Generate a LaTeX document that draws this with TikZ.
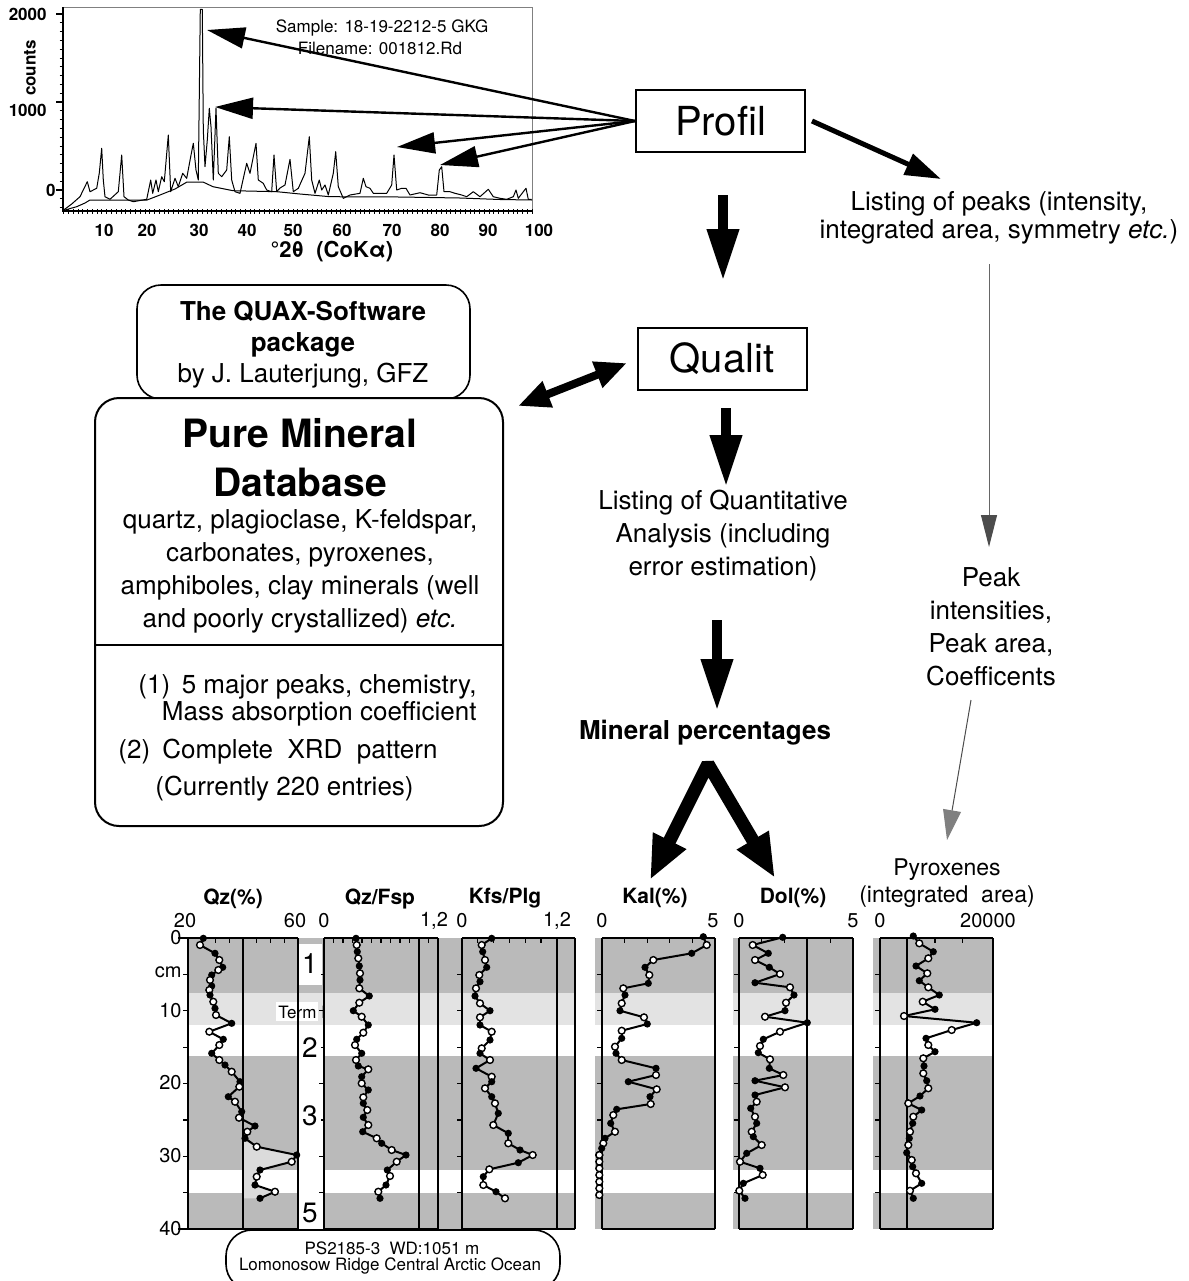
\documentclass[tikz,border=0pt]{standalone}
\usepackage{fontspec}
\setmainfont{TeX Gyre Heros}
\usetikzlibrary{arrows.meta}
\newcommand\markpts[1]{\foreach \x/\y [count=\i] in #1 {\ifodd\i \fill (\x,\y) circle[radius=1.8pt]; \else \filldraw[fill=white,line width=0.7pt] (\x,\y) circle[radius=1.7pt];\fi}}
\newcommand\linepts[1]{\foreach \x/\y [count=\i, remember=\x as \lx (initially 0), remember=\y as \ly (initially 0)] in #1 {\ifnum\i>1 \draw[curve] (\lx,\ly) -- (\x,\y);\fi}}
\def\dQz{203.3/938.3, 200/945, 215/953.3, 219.3/960, 222.7/967.3, 218.3/970, 211.7/975, 210/980, 211.7/986, 209.3/990, 210/995, 213.3/1001.7, 215/1008.3, 216/1015, 231.7/1023.3, 209.3/1031.7, 223.3/1039.3, 219.3/1045, 211.7/1053.3, 219.3/1060, 225/1065, 231.7/1071.7, 240/1081.7, 239.3/1086.7, 228.3/1096.7, 235/1101.7, 241.7/1111.7, 239/1117.7, 255/1126, 247.3/1131.7, 245/1138.3, 256.7/1146.7, 296.7/1155, 291.7/1161.7, 260/1170, 256.7/1176.7, 255/1185, 275/1191.7, 260/1198.3}
\def\dQF{356/938.3, 356.7/945, 357.3/951.7, 358.3/958.3, 359.3/966, 360/973.3, 360/980, 359.3/988.3, 369.3/996, 359.3/1002.7, 353.3/1010.7, 361.7/1016.7, 368.3/1025, 363.3/1032.7, 356.7/1039.3, 355/1045, 361.7/1053.3, 356/1060, 358.3/1066, 368.3/1069.3, 361.7/1076.7, 361.7/1083.3, 368.3/1090, 363.3/1097.3, 363.3/1103.3, 367.3/1110, 363.3/1117.3, 368.3/1125, 362.7/1131.7, 376.7/1138.3, 381.7/1143.3, 391.7/1150, 406/1155, 396.7/1161.7, 387.3/1170, 390/1176, 386/1185, 378.3/1191.7, 380/1198.3}
\def\dKP{491.7/938.3, 481.7/945, 482.7/951.7, 485/960, 486.7/967.3, 479.3/975, 480/981.7, 476/988.3, 475/996, 480/1003.3, 490/1010.7, 480/1017.3, 480/1025, 491.7/1031.7, 490/1040, 481.7/1048.3, 480/1053.3, 490/1060, 476/1068.3, 491.7/1076.7, 491.7/1081.7, 485/1088.3, 491.7/1096.7, 495/1103.3, 498.3/1113.3, 493.3/1125, 508.3/1133.3, 508.3/1143.3, 520/1150, 532.7/1155, 518.3/1162.7, 489.3/1169.3, 483.3/1176.7, 483.3/1185, 496/1191.7, 505/1198.3}
\def\dKal{703.3/936.7, 706.7/945, 691.7/953.3, 653.3/960, 645/967.3, 649.3/975, 648.3/983.3, 623.3/988.3, 625/995, 621.7/1003.3, 620/1010.7, 644/1017.3, 647.3/1024, 621.7/1030.7, 621.7/1038.3, 615/1046.7, 616/1053.3, 621.7/1060, 656/1068.3, 656/1075, 628.3/1081.7, 656.7/1089.3, 650/1096.7, 650.7/1104, 616.7/1109.3, 613.3/1115, 610.7/1123.3, 615/1131.7, 605/1138.3, 603.3/1143.3, 601.7/1148.3, 599.3/1155}
\def\dKalO{599.3/1155, 599.3/1161.7, 599.3/1168.3, 599.3/1175, 599.3/1181.7, 599.3/1188.3, 599.3/1195}
\def\dDol{782.7/937.3, 752.7/945, 768.3/953.3, 755/960, 769.3/967.3, 780/974, 755/982.7, 790/987.3, 794/995, 786/1002.7, 785/1010.7, 765/1016.7, 807.3/1022.7, 780/1031.7, 763.3/1039.3, 760/1046, 758.3/1052.7, 770/1059.3, 769.3/1068.3, 783.3/1075, 755/1080.7, 785/1087.3, 755/1095, 756.7/1101.7, 750.7/1108.3, 755/1116.7, 756.7/1123.3, 751.7/1131.7, 753.3/1136.7, 761.7/1145, 746.7/1153.3, 740/1161.7, 760/1168.3, 762.7/1175, 743.3/1183.3, 739.3/1190.7, 745/1198.3}
\def\dPyr{913.3/936, 919.3/943.3, 933.3/951.7, 928.3/958.3, 916/966, 927.3/973.3, 919.3/980.7, 928.3/987.3, 939.3/995, 922.7/1001.7, 935/1009.3, 904/1016, 976.7/1022.7, 951.7/1030, 926/1038.3, 928.3/1045, 935/1051.7, 923.3/1058.3, 924/1066, 923.3/1073.3, 926.7/1080.7, 928.3/1088.3, 920/1096, 908.3/1103.3, 921.7/1110, 913.3/1116.7, 912.7/1123.3, 910/1131.7, 909.3/1138.3, 908.3/1145, 906.7/1152.7, 911.7/1160, 912.7/1166.7, 916/1173.3, 921.7/1183.3, 910/1190.7, 913.3/1198.3}
\begin{document}
\begin{tikzpicture}[x=0.5pt,y=-0.5pt,
  every node/.style={inner sep=0pt},
  tx/.style={font=\fontsize{13}{16.5}\selectfont, align=center},
  procbox/.style={draw, line width=1pt, minimum width=84.5pt, minimum height=31pt, font=\fontsize{20}{24}\selectfont},
  axlbl/.style={font=\bfseries\fontsize{8.5}{10}\selectfont},
  small/.style={font=\fontsize{8.5}{10}\selectfont},
  ptitle/.style={font=\bfseries\fontsize{10.5}{12}\selectfont},
  pnum/.style={font=\fontsize{10}{12}\selectfont},
  bignum/.style={font=\fontsize{14}{16}\selectfont, fill=white, inner sep=1.5pt},
  dense/.style={fill=black!27},
  sparse/.style={fill=black!11},
  curve/.style={line width=1pt, line cap=round},
  panel/.style={line width=1pt},
  inner/.style={line width=0.8pt},
  thinarr/.style={line width=1.2pt, -{Triangle[length=19pt,width=10.5pt]}},
  medarr/.style={line width=2.5pt, -{Triangle[length=18pt,width=11pt]}},
  fatarr/.style={line width=5pt, -{Triangle[length=26pt,width=15pt]}},
  greyarr/.style={line width=0.5pt, draw=black!60, -{Triangle[length=16pt,width=8pt,fill=black!70,color=black!70]}},
  grey2arr/.style={line width=0.5pt, draw=black!70, -{Triangle[length=15pt,width=9pt,fill=black!50,color=black!50]}}
]
\useasboundingbox (0,0) rectangle (1189,1281);

% ================= XRD pattern =================
\draw[black!50, line width=0.4pt] (62.7,7) -- (532,7) -- (532,211);
\draw[line width=0.9pt] (62.7,7) -- (62.7,211) -- (532,211);
\foreach \k in {-2,...,20} \draw[line width=0.4pt] (59.5,{190-\k*8.8}) -- (62.7,{190-\k*8.8});
\foreach \k in {0,10,20} \draw[line width=0.6pt] (56,{190-\k*8.8}) -- (62.7,{190-\k*8.8});
\foreach \v in {2,...,100} \draw[line width=0.4pt] ({62.7+(\v-1.8)*4.78},209) -- ({62.7+(\v-1.8)*4.78},214);
\node[axlbl, anchor=east] (y2000) at (47,14) {2000};
\node[axlbl, anchor=east] (y1000) at (47,110) {1000};
\node[axlbl, anchor=east] (y0) at (56,190) {0};
\node[axlbl, rotate=90] (counts) at (30,68) {counts};
\foreach \v/\xx in {10/104,20/147,30/199,40/247,50/293,60/342,70/392,80/440,90/488,100/539}
  \node[axlbl] (xl\v) at (\xx,230) {\v};
\node[font=\bfseries\fontsize{11}{13}\selectfont] (xaxis) at (332,252) {°2θ\ \ (CoKα)};
\node[small] (sample) at (382,28) {Sample: 18-19-2212-5 GKG};
\node[small] (fname) at (380,48) {Filename: 001812.Rd};
% background
\draw[line width=0.5pt] (62.7,210.7) -- (72,208) -- (76.7,206.7) -- (85,203) -- (90,200) -- (133,200) -- (147,200) -- (160,195) -- (175,189) -- (187,182) -- (203,182) -- (213,186.7) -- (233,190.7) -- (277,191.7) -- (300,194) -- (330,196.7) -- (400,197) -- (460,198) -- (500,199.5) -- (532,200);
% spectrum
\draw[line width=0.5pt, line join=round] (62.7,210.7) -- (71.7,204) -- (80,196.7) -- (87.3,181.7) -- (90,191.7) -- (96.7,188.3) -- (99.3,173) -- (101.7,148.3) -- (103.3,180) -- (105,196.7) -- (110,199.3) -- (118.3,191.7) -- (121.7,155) -- (124,196.7) -- (128.3,200) -- (133.3,201.7) -- (146.7,199.3) -- (150.7,180) -- (152.7,193.3) -- (156,180) -- (158.3,191.7) -- (161.7,176.7) -- (164.3,181.7) -- (168.3,135) -- (170.7,191.7) -- (175,178.3) -- (178.3,186.7) -- (182.7,173.3) -- (186.7,178.3) -- (190.7,156.7) -- (193.3,143.3) -- (196,170) -- (198.3,180) -- (200.3,9.3) -- (202.3,9.3) -- (203.3,130) -- (205,166.7) -- (207.3,140) -- (209.3,108.3) -- (211,126.7) -- (213.3,180) -- (216,108.3) -- (218.3,173.3) -- (221.7,176.7) -- (226.7,170) -- (229.3,136.7) -- (231.7,180) -- (235,191.7) -- (240,193.3) -- (246.7,163.3) -- (250,173.3) -- (256,143.3) -- (258.3,180) -- (263.3,183.3) -- (266.7,190) -- (271.7,191.7) -- (274,155) -- (276.7,191.7) -- (280,188) -- (285,185) -- (290,159.3) -- (293.3,191.7) -- (298.3,188.3) -- (305,173.3) -- (309.3,136.7) -- (311.7,180) -- (315,193.3) -- (319.3,180) -- (321.7,190) -- (325,185) -- (328.3,195) -- (333.3,173.3) -- (335.7,151.7) -- (338.3,186.7) -- (343.3,198.3) -- (350,195) -- (360,193.3) -- (363.3,178.3) -- (366,186.7) -- (370,188.3) -- (373.3,193.3) -- (386.7,193.3) -- (391.7,185) -- (394,155) -- (396.7,190) -- (401.7,188.3) -- (406,188.3) -- (410,195) -- (420,192.7) -- (428.3,195) -- (436.7,195) -- (439.3,170) -- (441.7,166.7) -- (444,191.7) -- (450,191.7) -- (455,193.3) -- (461.7,195) -- (466.7,196.7) -- (473.3,191.7) -- (480,196.7) -- (488.3,189.3) -- (493.3,196.7) -- (500,198.3) -- (506.7,199.3) -- (513.3,196.7) -- (516,190) -- (518.3,198.3) -- (523.3,191.7) -- (526,188.3) -- (528.3,199.3) -- (531.7,199.3);

% ================= flow part =================
\node[procbox] (profil) at (720.5,121) {Profil};
\node[procbox] (qualit) at (722,359) {Qualit};
\coordinate (t1) at (207,30);
\coordinate (t2) at (215,107);
\coordinate (t3) at (397,147);
\coordinate (t4) at (440,165);
\foreach \t in {t1,t2,t3,t4} \draw[thinarr] (profil.west) -- (\t);

\node[tx, font=\fontsize{13}{14}\selectfont] (listpk) at (999,218) {Listing of peaks (intensity,\\integrated area, symmetry \textit{etc.})};
\coordinate (lpt) at (941,179);
\draw[medarr] ([xshift=3pt]profil.east) -- (lpt);

\coordinate (pa1) at (723,195);
\coordinate (pa2) at (723,281);
\draw[fatarr] (pa1) -- (pa2);

\coordinate (g1) at (989,264);
\coordinate (g2) at (989,547);
\draw[greyarr] (g1) -- (g2);
\node[tx] (peak) at (991,627) {Peak\\intensities,\\Peak area,\\Coefficents};
\coordinate (g3) at (971,700);
\coordinate (g4) at (947,840);
\draw[grey2arr] (g3) -- (g4);

\node[draw, rounded corners=12pt, line width=0.8pt, minimum width=166.5pt, minimum height=57pt] (quax) at (303.5,342) {};
\node[draw, fill=white, rounded corners=12pt, line width=1pt, minimum width=204pt, minimum height=214pt] (db) at (299,612) {};
\node[font=\bfseries\fontsize{13}{15.5}\selectfont, align=center] (quaxt) at (303,329) {The QUAX-Software\\package};
\node[tx] (quaxa) at (303,376) {by J. Lauterjung, GFZ};
\node[font=\bfseries\fontsize{19.5}{24.5}\selectfont, align=center] (dbt) at (300,458) {Pure Mineral\\Database};
\node[tx] (dbl) at (300,571) {quartz, plagioclase, K-feldspar,\\carbonates, pyroxenes,\\amphiboles,\ clay minerals (well\\and poorly crystallized) \textit{etc.}};
\draw[line width=1pt] (95,645) -- (503,645);
\node[tx, anchor=west] (n1) at (138,687) {(1)};
\node[tx, anchor=east] (n1a) at (477,687) {5 major peaks, chemistry,};
\node[tx, anchor=east] (n1b) at (477,714) {Mass absorption\ coefficient};
\node[tx, anchor=west] (n2) at (118,752) {(2)};
\node[tx, anchor=west] (n2a) at (162,752) {Complete\ \ XRD\ \ pattern};
\node[tx, anchor=west] (n3) at (155,789) {(Currently 220 entries)};

\coordinate (d1) at (518,406);
\coordinate (d2) at (627,363);
\draw[line width=4pt, {Triangle[length=16pt,width=13pt]}-{Triangle[length=16pt,width=13pt]}] (d1) -- (d2);

\coordinate (qa1) at (726,408);
\coordinate (qa2) at (726,487);
\draw[fatarr] (qa1) -- (qa2);
\node[tx] (lqa) at (723,536) {Listing of Quantitative\\Analysis (including\\error estimation)};
\coordinate (qb1) at (717,620);
\coordinate (qb2) at (717,711);
\draw[fatarr] (qb1) -- (qb2);
\node[font=\bfseries\fontsize{13}{15}\selectfont] (minp) at (705,733) {Mineral percentages};

\coordinate (vl) at (650,880);
\coordinate (vtop) at (708,764);
\coordinate (vr) at (775,878);
\draw[line width=6.5pt, line join=bevel, {Triangle[length=22pt,width=17pt]}-{Triangle[length=22pt,width=17pt]}] (vl) -- (vtop) -- (vr);

% ================= depth profiles =================
\foreach \xa/\xb in {188/298,324/575,595/715,733/853,873/993}{
  \fill[dense] (\xa,938) rectangle (\xb,993.3);
  \fill[sparse] (\xa,993.3) rectangle (\xb,1025.4);
  \fill[dense] (\xa,1056) rectangle (\xb,1170.2);
  \fill[dense] (\xa,1192.8) rectangle (\xb,1229.2);
}
\fill[dense] (298,938) rectangle (324,993.3);
\fill[sparse] (298,993.3) rectangle (324,1025.4);
\fill[black!14] (243,1140) -- (256.7,1146.7) -- (296.7,1155) -- (291.7,1161.7) -- (260,1170) -- (256.7,1176.7) -- (255,1185) -- (275,1191.7) -- (260,1198.3) -- (243,1198.3) -- cycle;
\fill[white] (299,944) rectangle (322,985);
\fill[white] (276,1002) rectangle (318,1021);

\foreach \ax/\rb in {188/298,324/438,462/575,602/715,739/853,880/993}{
  \draw[panel] (\ax,938) -- (\rb,938);
  \draw[panel] (\ax,1229.2) -- (\rb,1229.2);
  \draw[panel] (\ax,938) -- (\ax,1229.2);
  \draw[panel] (\rb,938) -- (\rb,1229.2);
  \foreach \d in {5,10,...,35} \draw[line width=0.6pt] (\ax-5,{938+\d*7.28}) -- (\ax,{938+\d*7.28});
}
\draw[line width=0.8pt] (178,938) -- (188,938);
\draw[line width=0.8pt] (178,1229.2) -- (188,1229.2);
\foreach \xi in {243,419,557,807,907} \draw[inner] (\xi,938) -- (\xi,1229.2);
% top ticks
\foreach \k in {1,...,7} \draw[line width=0.6pt] ({188+\k*13.75},938) -- ({188+\k*13.75},943);
\foreach \k in {1,...,11} \draw[line width=0.6pt] ({324+\k*9.5},938) -- ({324+\k*9.5},943);
\foreach \k in {1,...,5} \draw[line width=0.6pt] ({462+\k*15.8},938) -- ({462+\k*15.8},943);
\foreach \k in {1,...,4} \draw[line width=0.6pt] ({602+\k*22.6},938) -- ({602+\k*22.6},943);
\foreach \k in {1,...,4} \draw[line width=0.6pt] ({739+\k*22.8},938) -- ({739+\k*22.8},943);
\foreach \k in {1,...,3} \draw[line width=0.6pt] ({880+\k*27.5},938) -- ({880+\k*27.5},943);

% curves
\linepts{\dQz} \markpts{\dQz}
\linepts{\dQF} \markpts{\dQF}
\linepts{\dKP} \markpts{\dKP}
\linepts{\dKal} \markpts{\dKal}
\linepts{\dKalO}
\foreach \x/\y in \dKalO {\filldraw[fill=white,line width=0.7pt] (\x,\y) circle[radius=1.7pt];}
\linepts{\dDol} \markpts{\dDol}
\linepts{\dPyr} \markpts{\dPyr}

% labels
\node[bignum] (z1) at (310,964) {1};
\node[bignum] (z2) at (310,1048) {2};
\node[bignum] (z3) at (310,1116) {3};
\node[bignum] (z5) at (310,1213) {5};
\node[font=\fontsize{8.5}{10}\selectfont, anchor=west] (term) at (278,1012) {Term I};

\node[pnum, anchor=east] (d0) at (182,938) {0};
\node[pnum, anchor=east] (dcm) at (182,972) {cm};
\node[pnum, anchor=east] (d10) at (182,1011) {10};
\node[pnum, anchor=east] (d20) at (182,1083) {20};
\node[pnum, anchor=east] (d30) at (182,1156) {30};
\node[pnum, anchor=east] (d40) at (182,1229) {40};

\node[ptitle] (tqz) at (233,899) {Qz(\%)};
\node[ptitle] (tqf) at (380,899) {Qz/Fsp};
\node[ptitle] (tkp) at (505,898) {Kfs/Plg};
\node[ptitle] (tkal) at (655,898) {Kal(\%)};
\node[ptitle] (tdol) at (793,898) {Dol(\%)};
\node[font=\fontsize{11.5}{13}\selectfont] (tpy1) at (947,870) {Pyroxenes};
\node[font=\fontsize{11.5}{13}\selectfont] (tpy2) at (947,897) {(integrated\ \ area)};
\foreach \xx/\s in {185/20,295/60,324/0,434/{1,2},462/0,557/{1,2},602/0,713/5,739/0,853/5,880/0,988/20000}
  \node[pnum] at (\xx,921) {\s};

\node[draw, rounded corners=13pt, line width=0.8pt, minimum width=167pt, minimum height=30pt] (site) at (393,1260) {};
\node[font=\fontsize{8.5}{10}\selectfont] (site1) at (392,1248) {PS2185-3\ \ WD:1051 m};
\node[font=\fontsize{8.5}{10}\selectfont] (site2) at (390,1266) {Lomonosow Ridge Central Arctic Ocean};
\end{tikzpicture}
\end{document}
